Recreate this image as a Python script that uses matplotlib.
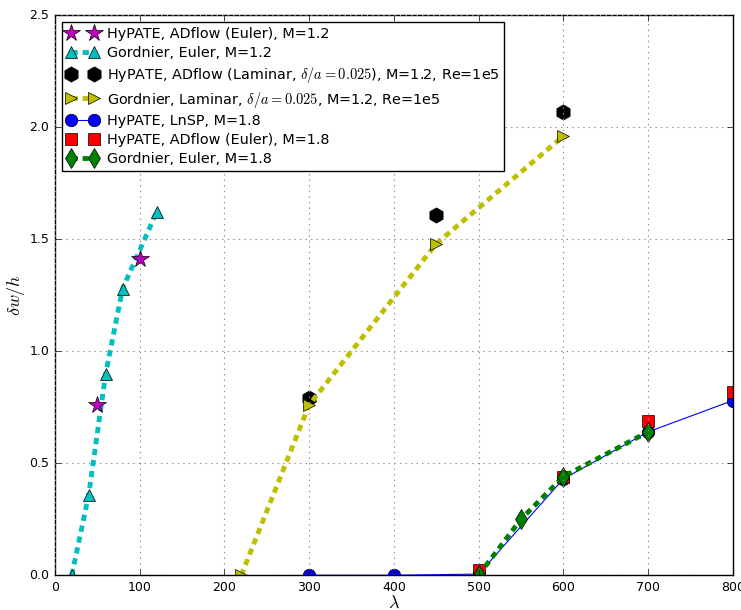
import numpy as np
import matplotlib
matplotlib.use("Agg")
import matplotlib.pyplot as plt

plt.style.use("classic")
plt.rcParams["mathtext.fontset"] = "cm"

# HyPATE, ADflow (Euler), M=1.2
lam_hy12 = [50, 100]
dw_hy12 = [0.76, 1.41]

# Gordnier, Euler, M=1.2
lam_go12 = [20, 40, 60, 80, 120]
dw_go12 = [0.0, 0.36, 0.90, 1.28, 1.62]

# HyPATE, ADflow laminar
lam_hylam = [300, 450, 600]
dw_hylam = [0.79, 1.61, 2.07]

# Gordnier, laminar
lam_golam = [220, 300, 450, 600]
dw_golam = [0.0, 0.76, 1.48, 1.96]

# HyPATE, LnSP, M=1.8
lam_lnsp = [300, 400, 500, 600, 700, 800]
dw_lnsp = [0.0, 0.0, 0.005, 0.43, 0.64, 0.78]

# HyPATE, ADflow (Euler), M=1.8
lam_hy18 = [500, 600, 700, 800]
dw_hy18 = [0.025, 0.44, 0.69, 0.82]

# Gordnier, Euler, M=1.8
lam_go18 = [500, 550, 600, 700]
dw_go18 = [0.0, 0.25, 0.44, 0.64]

# classic style does not scale dashes with linewidth, so these are points
dots = (0, (4.5, 3.5))

fig = plt.figure(figsize=(7.41, 6.10), dpi=100, facecolor="white")
ax = fig.add_axes([0.074, 0.057, 0.915, 0.918])
ax.set_facecolor("white")

ax.plot(lam_hy12, dw_hy12, "m*", ms=13, mew=0.5, linestyle="none",
        label="HyPATE, ADflow (Euler), M=1.2", zorder=5)
ax.plot(lam_go12, dw_go12, "c^", ms=9, mew=0.5, lw=3.5, linestyle=dots,
        label="Gordnier, Euler, M=1.2")
ax.plot(lam_hylam, dw_hylam, "kh", ms=11, mew=0.5, linestyle="none",
        label=r"HyPATE, ADflow (Laminar, $\delta/a=0.025$), M=1.2, Re=1e5")
ax.plot(lam_golam, dw_golam, "y>", ms=9, mew=0.5, lw=3.5, linestyle=dots,
        label=r"Gordnier, Laminar, $\delta/a=0.025$, M=1.2, Re=1e5")
ax.plot(lam_lnsp, dw_lnsp, "bo-", ms=9, mew=0.5, lw=0.8,
        label="HyPATE, LnSP, M=1.8")
ax.plot(lam_hy18, dw_hy18, "rs", ms=9, mew=0.5, linestyle="none",
        label="HyPATE, ADflow (Euler), M=1.8")
ax.plot(lam_go18, dw_go18, "gd", ms=10, mew=0.5, lw=3.5, linestyle=dots,
        label="Gordnier, Euler, M=1.8")

ax.set_xlim(0, 800)
ax.set_ylim(0, 2.5)
ax.set_xticks(np.arange(0, 801, 100))
ax.set_yticks(np.arange(0, 2.51, 0.5))
ax.yaxis.set_major_formatter(matplotlib.ticker.FormatStrFormatter("%.1f"))
ax.tick_params(labelsize=9)
ax.grid(True, color="0.55", linestyle=":", lw=0.8)
ax.set_xlabel(r"$\lambda$", fontsize=13, labelpad=0)
ax.set_ylabel(r"$\delta w/h$", fontsize=13, labelpad=2)

ax.legend(loc="upper left", fontsize=10.4, numpoints=2, borderaxespad=0.5,
          handlelength=2.2, labelspacing=0.34, handletextpad=0.6,
          borderpad=0.3)

fig.savefig("out.png", dpi=100, facecolor="white")
